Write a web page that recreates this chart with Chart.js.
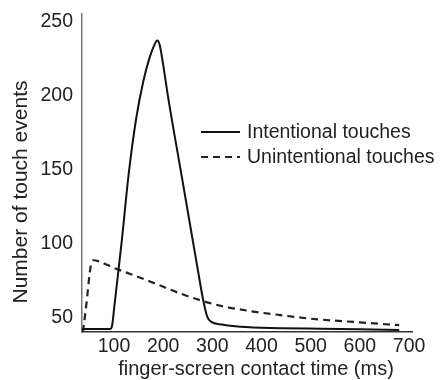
<!DOCTYPE html>
<html>
<head>
<meta charset="utf-8">
<script src="https://cdn.jsdelivr.net/npm/chart.js@4/dist/chart.umd.min.js"></script>
<style>
  html, body { margin: 0; padding: 0; background: #fff; }
  #wrap { width: 444px; height: 380px; }
</style>
</head>
<body>
<div id="wrap"><canvas id="touchChart" width="444" height="380"></canvas></div>
<script>
// Contact time (ms) and touch counts
var intentX = [35, 92, 96, 101, 116, 130, 145, 160, 172, 182, 188, 193, 198, 210, 240, 270, 280, 285, 290, 297, 320, 357, 439, 520, 600, 680];
var intentY = [42, 42, 44, 58, 102, 147, 184, 210, 225, 234, 237, 234, 225, 199, 141, 83, 64, 56, 50, 47, 45, 43.5, 42.6, 42.2, 41.8, 41.4];

var unintentX = [37, 45, 50, 53, 57, 100, 173, 235, 280, 320, 380, 439, 500, 600, 680];
var unintentY = [40, 62, 78, 85, 88.5, 83.3, 74.2, 66, 61, 57.5, 54, 51.4, 49, 46.5, 44.6];

var seriesNames = ['Intentional touches', 'Unintentional touches'];
var xTickValues = [100, 200, 300, 400, 500, 600, 700];
var yTickValues = [50, 100, 150, 200, 250];
var xTitle = 'finger-screen contact time (ms)';
var yTitle = 'Number of touch events';

var FONT = '"Liberation Sans", Arial, sans-serif';
var TEXT = '#222';

function toPoints(xs, ys) {
    var pts = [];
    for (var i = 0; i < xs.length; i++) {
        pts.push({ x: xs[i], y: ys[i] });
    }
    return pts;
}

// white background, axis titles and the in-plot legend
var decorPlugin = {
    id: 'decor',
    beforeDraw: function (chart) {
        var ctx = chart.ctx;
        ctx.save();
        ctx.fillStyle = '#fff';
        ctx.fillRect(0, 0, chart.width, chart.height);
        ctx.restore();
    },
    afterDraw: function (chart) {
        var ctx = chart.ctx;
        ctx.save();
        ctx.fillStyle = TEXT;

        // x title
        ctx.font = '20px ' + FONT;
        ctx.textAlign = 'center';
        ctx.textBaseline = 'alphabetic';
        ctx.fillText(xTitle, 256, 375);

        // y title
        ctx.save();
        ctx.translate(27, 192);
        ctx.rotate(-Math.PI / 2);
        ctx.font = '21px ' + FONT;
        ctx.fillText(yTitle, 0, 0);
        ctx.restore();

        // legend
        var rows = [132, 157];
        chart.data.datasets.forEach(function (ds, i) {
            var y = rows[i];
            ctx.beginPath();
            ctx.strokeStyle = ds.borderColor;
            ctx.lineWidth = ds.borderWidth;
            ctx.setLineDash(ds.borderDash || []);
            ctx.moveTo(201, y);
            ctx.lineTo(240, y);
            ctx.stroke();
            ctx.setLineDash([]);
            ctx.font = '19.5px ' + FONT;
            ctx.textAlign = 'left';
            ctx.textBaseline = 'middle';
            ctx.fillStyle = TEXT;
            ctx.fillText(ds.label, 247, y + 1);
        });
        ctx.restore();
    }
};

document.addEventListener('DOMContentLoaded', function () {
    var ctx = document.getElementById('touchChart').getContext('2d');
    new Chart(ctx, {
        type: 'line',
        data: {
            datasets: [{
                label: seriesNames[0],
                data: toPoints(intentX, intentY),
                borderColor: '#111',
                borderWidth: 2,
                pointRadius: 0,
                fill: false,
                cubicInterpolationMode: 'monotone'
            }, {
                label: seriesNames[1],
                data: toPoints(unintentX, unintentY),
                borderColor: '#222',
                borderWidth: 2.2,
                borderDash: [7, 5],
                pointRadius: 0,
                fill: false,
                cubicInterpolationMode: 'monotone'
            }]
        },
        options: {
            responsive: false,
            animation: false,
            layout: { padding: { left: 0, right: 32, top: 14, bottom: 0 } },
            plugins: {
                legend: { display: false },
                tooltip: { enabled: false }
            },
            scales: {
                x: {
                    type: 'linear',
                    min: 35,
                    max: 706,
                    afterBuildTicks: function (scale) {
                        scale.ticks = xTickValues.map(function (v) { return { value: v }; });
                    },
                    afterFit: function (scale) {
                        scale.height = 48;
                        scale.paddingLeft = 0;
                        scale.paddingRight = 0;
                    },
                    grid: { color: 'transparent', drawTicks: false },
                    border: { color: '#333', width: 1.5 },
                    ticks: {
                        padding: 3,
                        color: TEXT,
                        font: { family: FONT, size: 19.5 },
                        maxRotation: 0,
                        autoSkip: false
                    }
                },
                y: {
                    min: 40,
                    max: 255,
                    afterBuildTicks: function (scale) {
                        scale.ticks = yTickValues.map(function (v) { return { value: v }; });
                    },
                    afterFit: function (scale) {
                        scale.width = 82;
                        scale.paddingTop = 0;
                        scale.paddingBottom = 0;
                    },
                    grid: { color: 'transparent', drawTicks: false },
                    border: { color: '#777', width: 1.5 },
                    ticks: {
                        padding: 9,
                        color: TEXT,
                        font: { family: FONT, size: 19.5 }
                    }
                }
            }
        },
        plugins: [decorPlugin]
    });
});
</script>
</body>
</html>
